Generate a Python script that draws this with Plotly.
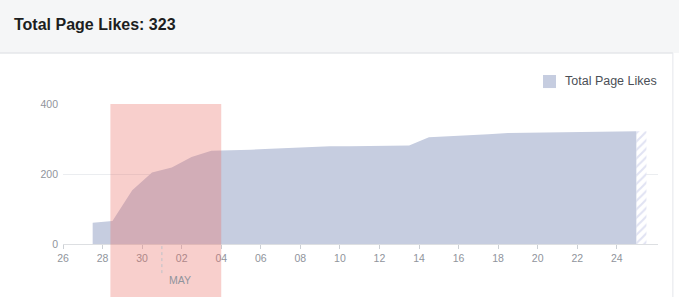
import plotly.graph_objects as go

# ---- data ----
dates = [
    "2020-04-27 12:00", "2020-04-28 12:00", "2020-04-29 12:00", "2020-04-30 12:00",
    "2020-05-01 12:00", "2020-05-02 12:00", "2020-05-03 12:00", "2020-05-04 12:00",
    "2020-05-05 12:00", "2020-05-06 12:00", "2020-05-07 12:00", "2020-05-08 12:00",
    "2020-05-09 12:00", "2020-05-10 12:00", "2020-05-11 12:00", "2020-05-12 12:00",
    "2020-05-13 12:00", "2020-05-14 12:00", "2020-05-15 12:00", "2020-05-16 12:00",
    "2020-05-17 12:00", "2020-05-18 12:00", "2020-05-19 12:00", "2020-05-20 12:00",
    "2020-05-21 12:00", "2020-05-22 12:00", "2020-05-23 12:00", "2020-05-24 12:00",
    "2020-05-25 00:00",
]
likes = [61, 66, 154, 205, 219, 249, 267, 268, 270, 273, 276, 278, 280, 280, 281,
         281, 282, 306, 308, 311, 314, 318, 319, 320, 321, 322, 322, 323, 323]

partial_dates = ["2020-05-25 00:00", "2020-05-25 12:00"]
partial_likes = [323, 323]

tick_dates = ["2020-04-26", "2020-04-28", "2020-04-30", "2020-05-02", "2020-05-04",
              "2020-05-06", "2020-05-08", "2020-05-10", "2020-05-12", "2020-05-14",
              "2020-05-16", "2020-05-18", "2020-05-20", "2020-05-22", "2020-05-24"]
tick_labels = ["26", "28", "30", "02", "04", "06", "08", "10", "12", "14",
               "16", "18", "20", "22", "24"]

highlight_start = "2020-04-28 09:30"
highlight_end = "2020-05-04 00:00"
month_start = "2020-05-01"
month_label = "MAY"
total_label = "Total Page Likes: 323"
series_name = "Total Page Likes"

x_range = ["2020-04-26 00:00", "2020-05-26 02:00"]
y_ticks = [0, 200, 400]

AREA = "#c6cde0"
FONT = "Liberation Sans, Arial, Helvetica, sans-serif"
TICK = "#90949c"

fig = go.Figure()
fig.add_trace(go.Scatter(
    x=dates, y=likes, mode="lines", fill="tozeroy",
    line=dict(width=0, color=AREA), fillcolor=AREA, hoverinfo="skip",
    showlegend=False,
))
fig.add_trace(go.Scatter(
    x=partial_dates, y=partial_likes, mode="lines", fill="tozeroy",
    line=dict(width=0, color=AREA), fillcolor="white",
    fillpattern=dict(shape="/", fgcolor="#c3c7e8", bgcolor="white", size=6, solidity=0.35),
    hoverinfo="skip", showlegend=False,
))

shapes = [
    # header band
    dict(type="rect", xref="paper", yref="paper", x0=-0.2, x1=1.2, y0=1.364, y1=1.9,
         fillcolor="#f5f6f7", line=dict(width=0), layer="below"),
    dict(type="line", xref="paper", yref="paper", x0=-0.2, x1=1.025, y0=1.364, y1=1.364,
         line=dict(color="#dadde1", width=1)),
    dict(type="line", xref="paper", yref="paper", x0=1.025, x1=1.025, y0=1.364, y1=-0.6,
         line=dict(color="#e4e6eb", width=1)),
    # highlight band
    dict(type="rect", xref="x", yref="paper", x0=highlight_start, x1=highlight_end,
         y0=-0.6, y1=1.0, fillcolor="rgba(234,108,99,0.33)", line=dict(width=0),
         layer="above"),
    # month divider
    dict(type="line", xref="x", yref="paper", x0=month_start, x1=month_start,
         y0=-0.015, y1=-0.21, line=dict(color="#bec3c9", width=1, dash="dot")),
    # legend swatch
    dict(type="rect", xref="paper", yref="paper", x0=0.8067, x1=0.8286, y0=1.114, y1=1.207,
         fillcolor=AREA, line=dict(width=0)),
]

annotations = [
    dict(text=total_label, xref="paper", yref="paper", x=-0.0857, y=1.568,
         xanchor="left", yanchor="middle", showarrow=False,
         font=dict(family=FONT, size=16, color="#1c1e21", weight="bold")),
    dict(text=series_name, xref="paper", yref="paper", x=0.8403, y=1.162,
         xanchor="left", yanchor="middle", showarrow=False,
         font=dict(family=FONT, size=12.5, color="#4b4f56")),
    dict(text=month_label, xref="x", yref="paper", x=month_start, y=-0.257,
         xanchor="left", yanchor="middle", xshift=5, showarrow=False,
         font=dict(family=FONT, size=10.5, color=TICK)),
]

fig.update_layout(
    width=679, height=297,
    margin=dict(l=63, r=21, t=104, b=53),
    paper_bgcolor="white", plot_bgcolor="white",
    shapes=shapes, annotations=annotations,
    font=dict(family=FONT, size=10, color=TICK),
    xaxis=dict(
        type="date", range=x_range, tickvals=tick_dates, ticktext=tick_labels,
        ticks="outside", ticklen=4, tickcolor="#ccd0d5",
        showgrid=False, showline=True, linecolor="#dddfe2", linewidth=1,
        zeroline=False, tickfont=dict(family=FONT, size=10.5, color=TICK),
        fixedrange=True,
    ),
    yaxis=dict(
        range=[0, 401], tickvals=y_ticks, showgrid=True, gridcolor="#ebedf0",
        zeroline=False, showline=False, ticks="", ticklabelstandoff=4,
        tickfont=dict(family=FONT, size=10.5, color=TICK), fixedrange=True,
    ),
)

fig.write_html("out.html")
